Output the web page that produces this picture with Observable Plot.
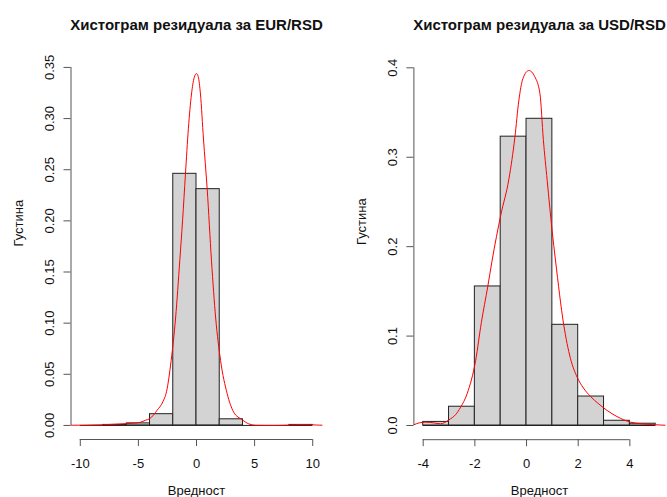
<!DOCTYPE html>
<html>
<head>
<meta charset="utf-8">
<script src="https://cdn.jsdelivr.net/npm/d3@7"></script>
<script src="https://cdn.jsdelivr.net/npm/@observablehq/plot@0.6"></script>
<style>
  html, body { margin: 0; padding: 0; background: #fff; overflow: hidden; }
  #wrap { position: relative; width: 667px; height: 497px; overflow: hidden; }
  #wrap > svg { position: absolute; top: 0; }
</style>
</head>
<body>
<div id="wrap"></div>
<script>
// Residual histograms (density scale) with kernel density curves

// EUR/RSD
const eurTitle = "Хистограм резидуала за EUR/RSD";
const eurBreaks = [-10, -8, -6, -4, -2, 0, 2, 4, 6, 8, 10];
const eurHeights = [0, 0.0005, 0.002, 0.011, 0.246, 0.231, 0.006, 0, 0, 0.0005];
const eurCurveX = [-10.8, -9.5, -8, -7, -6, -5, -4.4, -4, -3.4, -2.9, -2.58, -2.18, -1.8, -1.44, -1.2, -0.95, -0.7, -0.43, -0.2, 0, 0.15, 0.34, 0.6, 0.92, 1.29, 1.65, 2.07, 2.64, 3.2, 3.94, 4.5, 5.1, 6, 7, 7.8, 8.5, 9.5, 10.3, 10.8];
const eurCurveY = [0.0002, 0.0003, 0.0007, 0.0012, 0.0018, 0.0026, 0.005, 0.0068, 0.0147, 0.023, 0.033, 0.0636, 0.105, 0.161, 0.2, 0.246, 0.29, 0.324, 0.34, 0.344, 0.341, 0.324, 0.28, 0.231, 0.161, 0.105, 0.0636, 0.031, 0.013, 0.0055, 0.0015, 0.0002, 0.0001, 0.0001, 0.0003, 0.0008, 0.0008, 0.0004, 0.0002];
const eurXTicks = [-10, -5, 0, 5, 10];
const eurYTicks = [0, 0.05, 0.10, 0.15, 0.20, 0.25, 0.30, 0.35];

// USD/RSD
const usdTitle = "Хистограм резидуала за USD/RSD";
const usdBreaks = [-4, -3, -2, -1, 0, 1, 2, 3, 4, 5];
const usdHeights = [0.004, 0.021, 0.1555, 0.323, 0.343, 0.1126, 0.0324, 0.0053, 0.002];
const usdCurveX = [-4.36, -4.15, -3.91, -3.6, -3.33, -3.0, -2.75, -2.55, -2.3, -1.97, -1.75, -1.5, -1.33, -1.0, -0.68, -0.45, -0.3, -0.14, 0.09, 0.32, 0.52, 0.65, 0.8, 0.99, 1.12, 1.44, 1.7, 1.96, 2.2, 2.48, 2.8, 3.12, 3.5, 4.03, 4.41, 5.0, 5.36];
const usdCurveY = [0.0008, 0.003, 0.0037, 0.003, 0.0019, 0.0064, 0.012, 0.0205, 0.0355, 0.0727, 0.115, 0.1555, 0.185, 0.235, 0.276, 0.3225, 0.363, 0.388, 0.397, 0.39, 0.371, 0.32, 0.274, 0.218, 0.185, 0.1126, 0.075, 0.054, 0.042, 0.0324, 0.024, 0.0168, 0.01, 0.0037, 0.002, 0.0008, 0.0003];
const usdXTicks = [-4, -2, 0, 2, 4];
const usdYTicks = [0, 0.1, 0.2, 0.3, 0.4];

const xLabel = "Вредност";
const yLabel = "Густина";

const font = "'Liberation Sans', Arial, Helvetica, sans-serif";

function panel({title, breaks, heights, curveX, curveY, xTicks, yTicks, yFormat,
                xDomain, yMax, width, marginLeft, marginRight, marginTop, marginBottom}) {
  const bars = heights.map((h, i) => ({x1: breaks[i], x2: breaks[i + 1], y: h}));
  const curve = curveX.map((x, i) => ({x, y: curveY[i]}));
  const pad = 0.04 * yMax;
  const yDomain = [-pad, yMax + pad];
  return Plot.plot({
    width,
    height: 497,
    marginLeft, marginRight, marginTop, marginBottom,
    style: {fontFamily: font, fontSize: "13px", background: "white", color: "#000", overflow: "hidden"},
    x: {domain: xDomain},
    y: {domain: yDomain},
    marks: [
      Plot.rectY(bars, {x1: "x1", x2: "x2", y: "y", inset: 0, fill: "#d3d3d3", stroke: "#222", strokeWidth: 1}),
      // bottom edges of the histogram cells
      Plot.ruleY([0], {x1: breaks[0], x2: breaks[breaks.length - 1], stroke: "#222"}),
      Plot.line(curve, {x: "x", y: "y", stroke: "#ff0000", strokeWidth: 1, curve: "monotone-x"}),
      // axis lines span the first to last tick, as in base graphics
      Plot.ruleY([yDomain[0]], {x1: xTicks[0], x2: xTicks[xTicks.length - 1], stroke: "#555"}),
      Plot.ruleX([xDomain[0]], {y1: yTicks[0], y2: yTicks[yTicks.length - 1], stroke: "#555"}),
      Plot.axisX(xTicks, {tickSize: 7, tickPadding: 12, stroke: "#555", fill: "#111", fontSize: 13, label: null, tickFormat: d => d < 0 ? "-" + Math.abs(d) : String(d)}),
      Plot.axisY(yTicks, {tickSize: 7, tickPadding: 10, tickRotate: -90, stroke: "#555", fill: "#111", fontSize: 13, label: null, tickFormat: yFormat}),
      Plot.text([title], {text: d => d, frameAnchor: "top", lineAnchor: "bottom", dy: 29.5 - marginTop, fontWeight: "bold", fontSize: 15, fill: "#111"}),
      Plot.text([xLabel], {text: d => d, frameAnchor: "bottom", lineAnchor: "bottom", dy: 494 - (497 - marginBottom), fontSize: 13, fill: "#111"}),
      Plot.text([yLabel], {text: d => d, frameAnchor: "left", lineAnchor: "middle", rotate: -90, dx: -52, dy: -3, fontSize: 13, fill: "#111"})
    ]
  });
}

const left = panel({
  title: eurTitle, breaks: eurBreaks, heights: eurHeights, curveX: eurCurveX, curveY: eurCurveY,
  xTicks: eurXTicks, yTicks: eurYTicks, yFormat: d3.format(".2f"),
  xDomain: [-10.8, 10.8], yMax: 0.344,
  width: 333, marginLeft: 70.5, marginRight: 11.5, marginTop: 59, marginBottom: 58
});

const right = panel({
  title: usdTitle, breaks: usdBreaks, heights: usdHeights, curveX: usdCurveX, curveY: usdCurveY,
  xTicks: usdXTicks, yTicks: usdYTicks, yFormat: d3.format(".1f"),
  xDomain: [-4.36, 5.36], yMax: 0.397,
  width: 334, marginLeft: 80.4, marginRight: 2.5, marginTop: 55.8, marginBottom: 57.8
});
right.style.left = "333px";
left.style.left = "0px";

const wrap = document.getElementById("wrap");
wrap.appendChild(left);
wrap.appendChild(right);
</script>
</body>
</html>
